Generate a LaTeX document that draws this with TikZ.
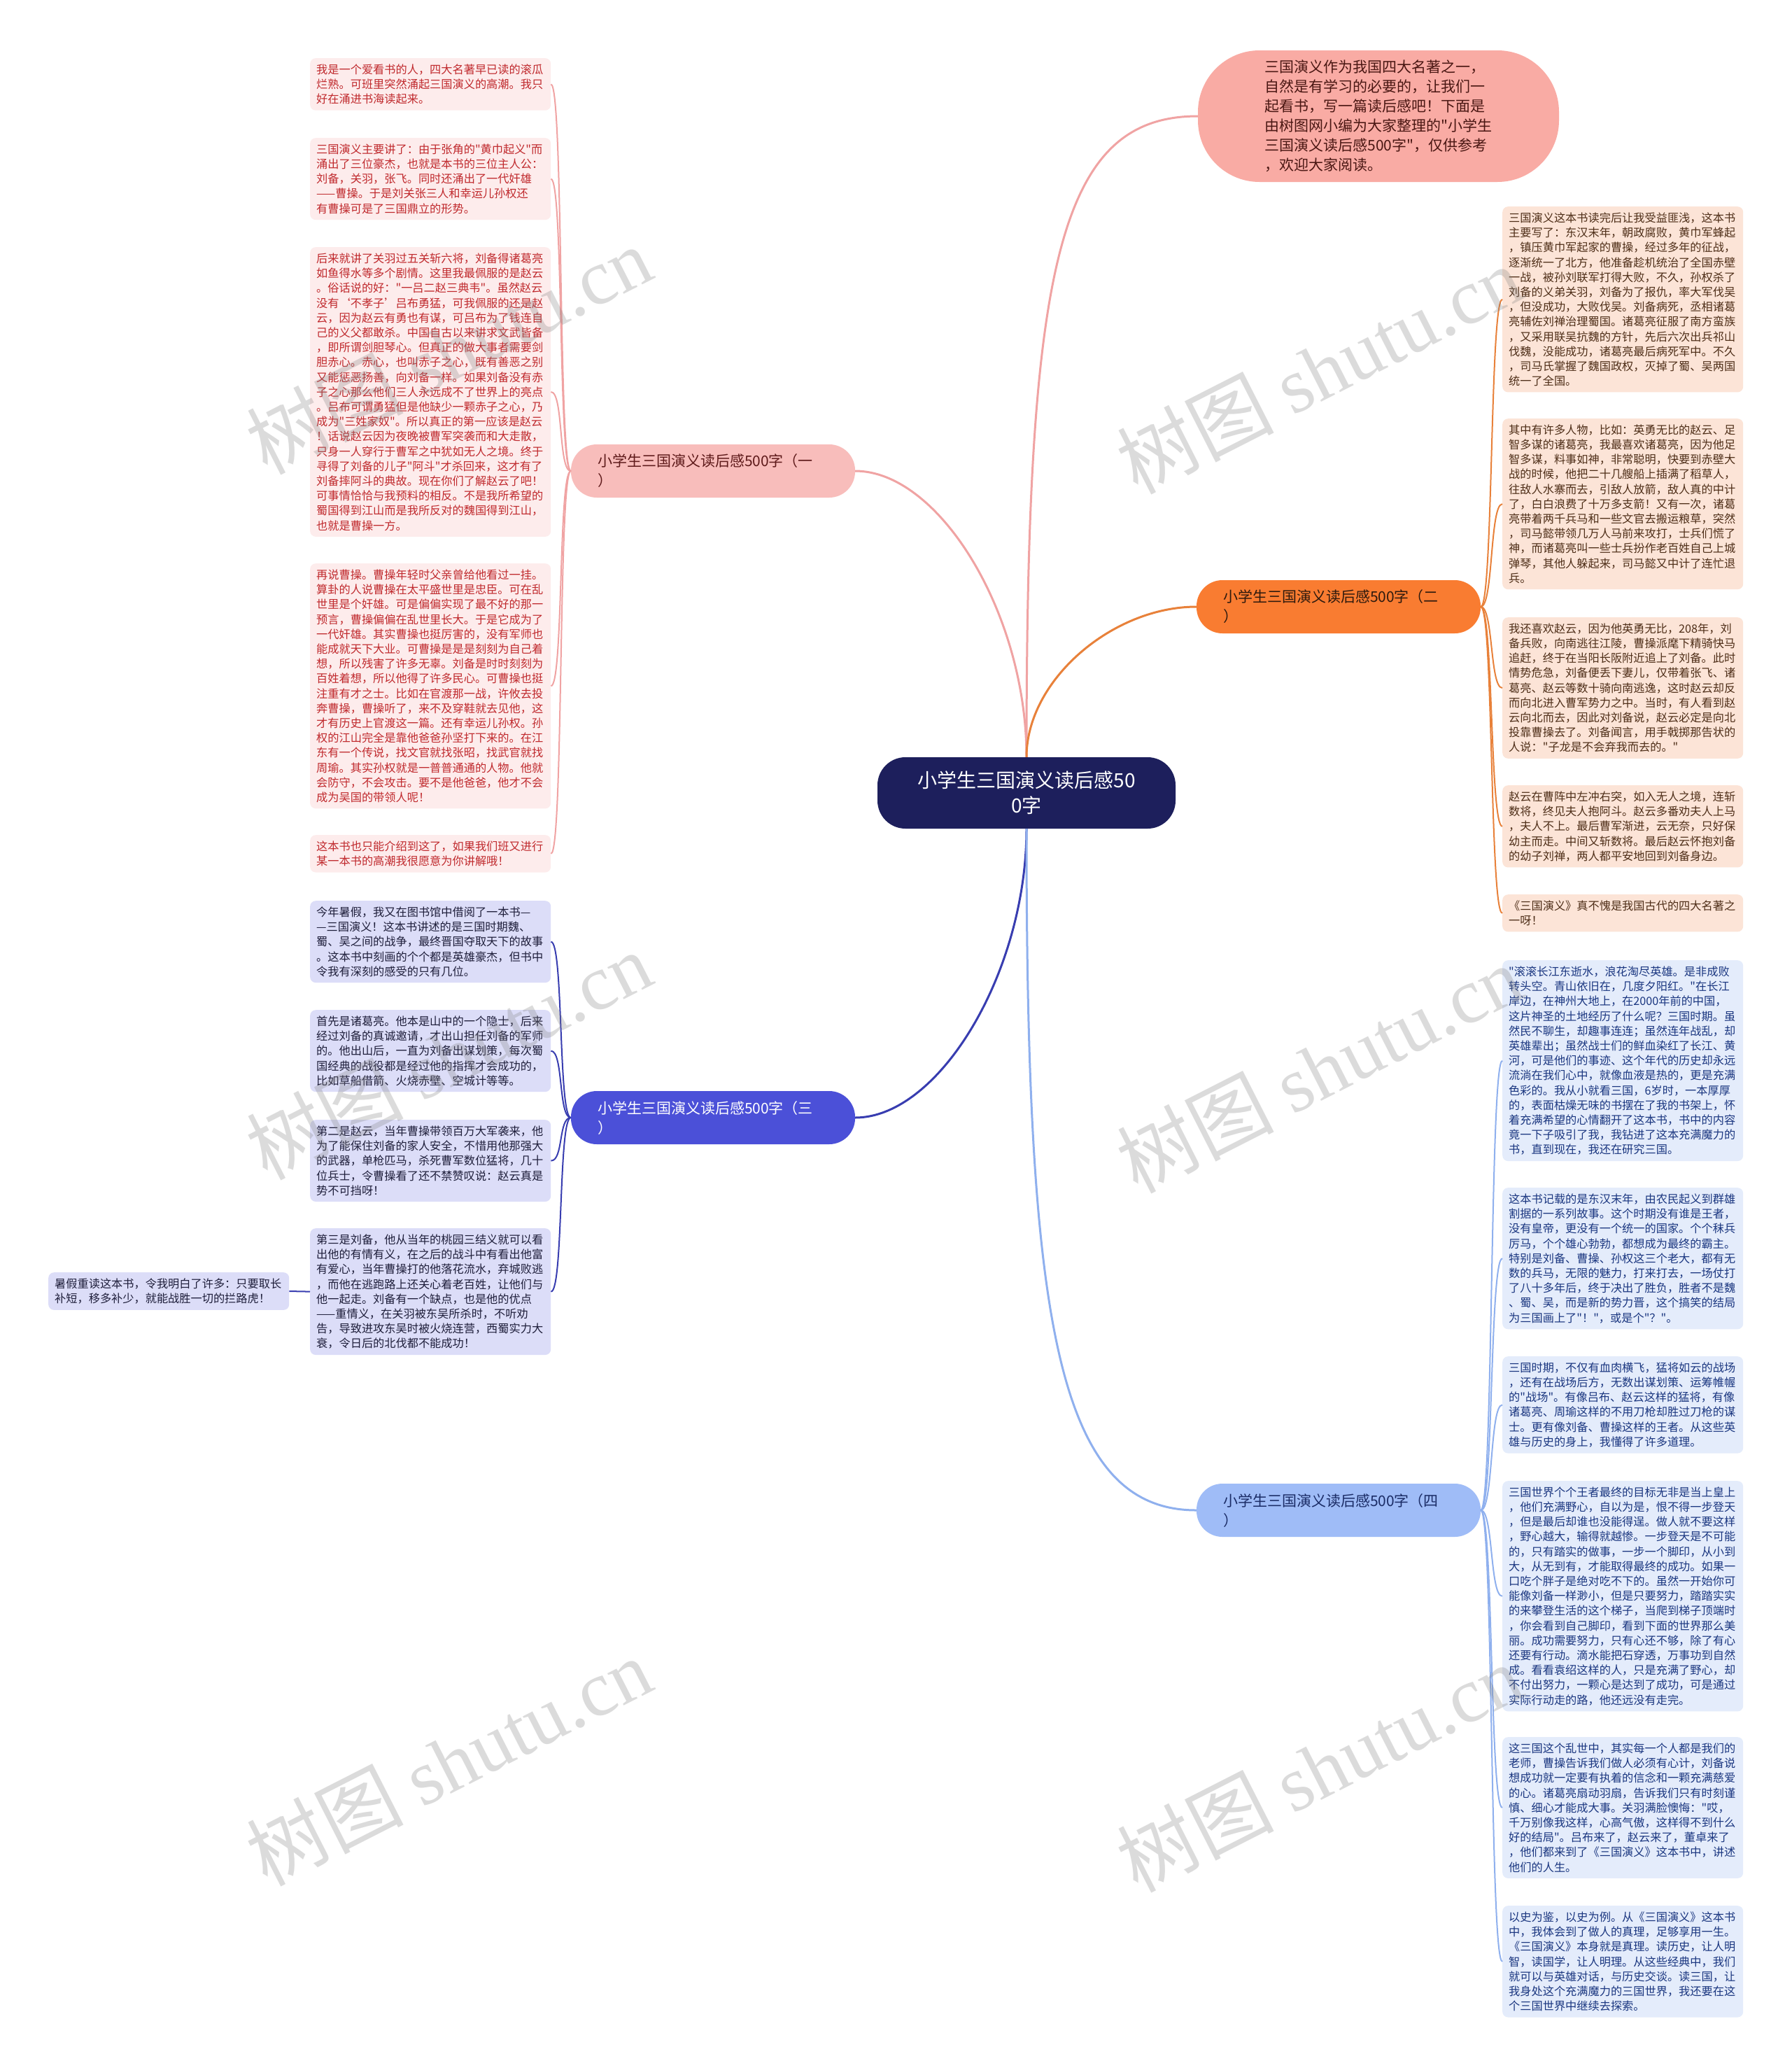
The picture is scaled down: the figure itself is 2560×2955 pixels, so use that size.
\documentclass[tikz,border=0pt]{standalone}
\usepackage{fontspec}
\setmainfont{Noto Sans CJK SC}[Ligatures=TeXOff]
\newfontfamily\wmfont{Liberation Serif}
\usepackage{xcolor}
\definecolor{cHub}{HTML}{1D1F5C}
\definecolor{cIntroBg}{HTML}{F9ABA4}
\definecolor{cIntroTx}{HTML}{4A1713}
\definecolor{cPinkTp}{HTML}{F8BDBB}
\definecolor{cPinkTx}{HTML}{5E1A1A}
\definecolor{cPinkLn}{HTML}{F0A3A3}
\definecolor{cRedBg}{HTML}{FDECEC}
\definecolor{cRedTx}{HTML}{C0292D}
\definecolor{cOrgTp}{HTML}{F97C31}
\definecolor{cOrgTx}{HTML}{2E1A0E}
\definecolor{cOrgLn}{HTML}{E8813A}
\definecolor{cOrgBg}{HTML}{FCE4D7}
\definecolor{cOrgLf}{HTML}{4E2E18}
\definecolor{cPurTp}{HTML}{4B50D8}
\definecolor{cPurLn}{HTML}{383DB0}
\definecolor{cPurBg}{HTML}{DCDDF8}
\definecolor{cPurTx}{HTML}{1E1E3A}
\definecolor{cBluTp}{HTML}{9FBCF7}
\definecolor{cBluTx}{HTML}{1B2C66}
\definecolor{cBluLn}{HTML}{8FB0EE}
\definecolor{cBluBg}{HTML}{E4ECFB}
\definecolor{cBluLf}{HTML}{1A3680}
\usepackage{tikz}
\newcommand\leaffont{\fontsize{16.2}{21.2}\selectfont}
\newcommand\topicfont{\fontsize{21}{28}\selectfont}
\tikzset{
  hub/.style={fill=cHub,text=white,rounded corners=40pt,align=center,
    minimum width=426pt,minimum height=102pt,font=\fontsize{28}{36}\selectfont},
  introbox/.style={fill=cIntroBg,text=cIntroTx,rounded corners=88pt,align=left,
    minimum width=516pt,minimum height=188pt,font=\topicfont},
  topic/.style={rounded corners=37pt,align=left,text width=330pt,inner xsep=38pt,
    minimum height=76pt,font=\topicfont},
  leaf/.style={anchor=north west,rounded corners=8pt,text width=326pt,
    inner xsep=9pt,inner ysep=8.5pt,align=left,font=\leaffont},
  redleaf/.style={leaf,fill=cRedBg,text=cRedTx},
  orgleaf/.style={leaf,fill=cOrgBg,text=cOrgLf},
  purleaf/.style={leaf,fill=cPurBg,text=cPurTx},
  bluleaf/.style={leaf,fill=cBluBg,text=cBluLf},
  link/.style={line width=3pt},
  twig/.style={line width=2pt},
  wmark/.style={text=gray,opacity=0.28,rotate=27,font=\fontsize{112}{116}\selectfont}}

\begin{document}
\begin{tikzpicture}[x=1pt,y=-1pt]
  \useasboundingbox (0,0) rectangle (2560,2955);
  \fill[white] (0,0) rectangle (2560,2955);
  % centre and main topics
  \node[hub] (hub) at (1467,1133) {小学生三国演义读后感50\\0字};
  \node[introbox] (intro) at (1970,166) {三国演义作为我国四大名著之一，\\自然是有学习的必要的，让我们一\\起看书，写一篇读后感吧！下面是\\由树图网小编为大家整理的"小学生\\三国演义读后感500字"，仅供参考\\，欢迎大家阅读。};
  \node[topic,fill=cPinkTp,text=cPinkTx] (t1) at (1019,673) {小学生三国演义读后感500字（一\\）};
  \node[topic,fill=cOrgTp,text=cOrgTx] (t2) at (1913,867) {小学生三国演义读后感500字（二\\）};
  \node[topic,fill=cPurTp,text=white] (t3) at (1019,1597) {小学生三国演义读后感500字（三\\）};
  \node[topic,fill=cBluTp,text=cBluTx] (t4) at (1913,2158) {小学生三国演义读后感500字（四\\）};

  % topic one
  \node[redleaf] (r1) at (443,83) {我是一个爱看书的人，四大名著早已读的滚瓜\\烂熟。可班里突然涌起三国演义的高潮。我只\\好在涌进书海读起来。};
  \node[redleaf] (r2) at (443,197) {三国演义主要讲了：由于张角的"黄巾起义"而\\涌出了三位豪杰，也就是本书的三位主人公：\\刘备，关羽，张飞。同时还涌出了一代奸雄\\——曹操。于是刘关张三人和幸运儿孙权还\\有曹操可是了三国鼎立的形势。};
  \node[redleaf] (r3) at (443,353) {后来就讲了关羽过五关斩六将，刘备得诸葛亮\\如鱼得水等多个剧情。这里我最佩服的是赵云\\。俗话说的好："一吕二赵三典韦"。虽然赵云\\没有‘不孝子’吕布勇猛，可我佩服的还是赵\\云，因为赵云有勇也有谋，可吕布为了钱连自\\己的义父都敢杀。中国自古以来讲求文武皆备\\，即所谓剑胆琴心。但真正的做大事者需要剑\\胆赤心。赤心，也叫赤子之心，既有善恶之别\\又能惩恶扬善，向刘备一样。如果刘备没有赤\\子之心那么他们三人永远成不了世界上的亮点\\。吕布可谓勇猛但是他缺少一颗赤子之心，乃\\成为"三姓家奴"。所以真正的第一应该是赵云\\！话说赵云因为夜晚被曹军突袭而和大走散，\\只身一人穿行于曹军之中犹如无人之境。终于\\寻得了刘备的儿子"阿斗"才杀回来，这才有了\\刘备摔阿斗的典故。现在你们了解赵云了吧！\\可事情恰恰与我预料的相反。不是我所希望的\\蜀国得到江山而是我所反对的魏国得到江山，\\也就是曹操一方。};
  \node[redleaf] (r4) at (443,805) {再说曹操。曹操年轻时父亲曾给他看过一挂。\\算卦的人说曹操在太平盛世里是忠臣。可在乱\\世里是个奸雄。可是偏偏实现了最不好的那一\\预言，曹操偏偏在乱世里长大。于是它成为了\\一代奸雄。其实曹操也挺厉害的，没有军师也\\能成就天下大业。可曹操是是是刻刻为自己着\\想，所以残害了许多无辜。刘备是时时刻刻为\\百姓着想，所以他得了许多民心。可曹操也挺\\注重有才之士。比如在官渡那一战，许攸去投\\奔曹操，曹操听了，来不及穿鞋就去见他，这\\才有历史上官渡这一篇。还有幸运儿孙权。孙\\权的江山完全是靠他爸爸孙坚打下来的。在江\\东有一个传说，找文官就找张昭，找武官就找\\周瑜。其实孙权就是一普普通通的人物。他就\\会防守，不会攻击。要不是他爸爸，他才不会\\成为吴国的带领人呢！};
  \node[redleaf] (r5) at (443,1193) {这本书也只能介绍到这了，如果我们班又进行\\某一本书的高潮我很愿意为你讲解哦！};

  % topic two
  \node[orgleaf] (o1) at (2147,295) {三国演义这本书读完后让我受益匪浅，这本书\\主要写了：东汉末年，朝政腐败，黄巾军蜂起\\，镇压黄巾军起家的曹操，经过多年的征战，\\逐渐统一了北方，他准备趁机统治了全国赤壁\\一战，被孙刘联军打得大败，不久，孙权杀了\\刘备的义弟关羽，刘备为了报仇，率大军伐吴\\，但没成功，大败伐吴。刘备病死，丞相诸葛\\亮辅佐刘禅治理蜀国。诸葛亮征服了南方蛮族\\，又采用联吴抗魏的方针，先后六次出兵祁山\\伐魏，没能成功，诸葛亮最后病死军中。不久\\，司马氏掌握了魏国政权，灭掉了蜀、吴两国\\统一了全国。};
  \node[orgleaf] (o2) at (2147,598) {其中有许多人物，比如：英勇无比的赵云、足\\智多谋的诸葛亮，我最喜欢诸葛亮，因为他足\\智多谋，料事如神，非常聪明，快要到赤壁大\\战的时候，他把二十几艘船上插满了稻草人，\\往敌人水寨而去，引敌人放箭，敌人真的中计\\了，白白浪费了十万多支箭！又有一次，诸葛\\亮带着两千兵马和一些文官去搬运粮草，突然\\，司马懿带领几万人马前来攻打，士兵们慌了\\神，而诸葛亮叫一些士兵扮作老百姓自己上城\\弹琴，其他人躲起来，司马懿又中计了连忙退\\兵。};
  \node[orgleaf] (o3) at (2147,882) {我还喜欢赵云，因为他英勇无比，208年，刘\\备兵败，向南逃往江陵，曹操派麾下精骑快马\\追赶，终于在当阳长阪附近追上了刘备。此时\\情势危急，刘备便丢下妻儿，仅带着张飞、诸\\葛亮、赵云等数十骑向南逃逸，这时赵云却反\\而向北进入曹军势力之中。当时，有人看到赵\\云向北而去，因此对刘备说，赵云必定是向北\\投靠曹操去了。刘备闻言，用手戟掷那告状的\\人说："子龙是不会弃我而去的。"};
  \node[orgleaf] (o4) at (2147,1122) {赵云在曹阵中左冲右突，如入无人之境，连斩\\数将，终见夫人抱阿斗。赵云多番劝夫人上马\\，夫人不上。最后曹军渐进，云无奈，只好保\\幼主而走。中间又斩数将。最后赵云怀抱刘备\\的幼子刘禅，两人都平安地回到刘备身边。};
  \node[orgleaf] (o5) at (2147,1278) {《三国演义》真不愧是我国古代的四大名著之\\一呀！};

  % topic three
  \node[purleaf] (p1) at (443,1287) {今年暑假，我又在图书馆中借阅了一本书—\\—三国演义！这本书讲述的是三国时期魏、\\蜀、吴之间的战争，最终晋国夺取天下的故事\\。这本书中刻画的个个都是英雄豪杰，但书中\\令我有深刻的感受的只有几位。};
  \node[purleaf] (p2) at (443,1443) {首先是诸葛亮。他本是山中的一个隐士，后来\\经过刘备的真诚邀请，才出山担任刘备的军师\\的。他出山后，一直为刘备出谋划策，每次蜀\\国经典的战役都是经过他的指挥才会成功的，\\比如草船借箭、火烧赤壁、空城计等等。};
  \node[purleaf] (p3) at (443,1600) {第二是赵云，当年曹操带领百万大军袭来，他\\为了能保住刘备的家人安全，不惜用他那强大\\的武器，单枪匹马，杀死曹军数位猛将，几十\\位兵士，令曹操看了还不禁赞叹说：赵云真是\\势不可挡呀！};
  \node[purleaf] (p4) at (443,1755) {第三是刘备，他从当年的桃园三结义就可以看\\出他的有情有义，在之后的战斗中有看出他富\\有爱心，当年曹操打的他落花流水，弃城败逃\\，而他在逃跑路上还关心着老百姓，让他们与\\他一起走。刘备有一个缺点，也是他的优点\\——重情义，在关羽被东吴所杀时，不听劝\\告，导致进攻东吴时被火烧连营，西蜀实力大\\衰，令日后的北伐都不能成功！};
  \node[purleaf] (p5) at (69,1818) {暑假重读这本书，令我明白了许多：只要取长\\补短，移多补少，就能战胜一切的拦路虎！};

  % topic four
  \node[bluleaf] (b1) at (2147,1372) {"滚滚长江东逝水，浪花淘尽英雄。是非成败\\转头空。青山依旧在，几度夕阳红。"在长江\\岸边，在神州大地上，在2000年前的中国，\\这片神圣的土地经历了什么呢？三国时期。虽\\然民不聊生，却趣事连连；虽然连年战乱，却\\英雄辈出；虽然战士们的鲜血染红了长江、黄\\河，可是他们的事迹、这个年代的历史却永远\\流淌在我们心中，就像血液是热的，更是充满\\色彩的。我从小就看三国，6岁时，一本厚厚\\的，表面枯燥无味的书摆在了我的书架上，怀\\着充满希望的心情翻开了这本书，书中的内容\\竟一下子吸引了我，我钻进了这本充满魔力的\\书，直到现在，我还在研究三国。};
  \node[bluleaf] (b2) at (2147,1697) {这本书记载的是东汉末年，由农民起义到群雄\\割据的一系列故事。这个时期没有谁是王者，\\没有皇帝，更没有一个统一的国家。个个秣兵\\厉马，个个雄心勃勃，都想成为最终的霸主。\\特别是刘备、曹操、孙权这三个老大，都有无\\数的兵马，无限的魅力，打来打去，一场仗打\\了八十多年后，终于决出了胜负，胜者不是魏\\、蜀、吴，而是新的势力晋，这个搞笑的结局\\为三国画上了"！"，或是个"？"。};
  \node[bluleaf] (b3) at (2147,1938) {三国时期，不仅有血肉横飞，猛将如云的战场\\，还有在战场后方，无数出谋划策、运筹帷幄\\的"战场"。有像吕布、赵云这样的猛将，有像\\诸葛亮、周瑜这样的不用刀枪却胜过刀枪的谋\\士。更有像刘备、曹操这样的王者。从这些英\\雄与历史的身上，我懂得了许多道理。};
  \node[bluleaf] (b4) at (2147,2116) {三国世界个个王者最终的目标无非是当上皇上\\，他们充满野心，自以为是，恨不得一步登天\\，但是最后却谁也没能得逞。做人就不要这样\\，野心越大，输得就越惨。一步登天是不可能\\的，只有踏实的做事，一步一个脚印，从小到\\大，从无到有，才能取得最终的成功。如果一\\口吃个胖子是绝对吃不下的。虽然一开始你可\\能像刘备一样渺小，但是只要努力，踏踏实实\\的来攀登生活的这个梯子，当爬到梯子顶端时\\，你会看到自己脚印，看到下面的世界那么美\\丽。成功需要努力，只有心还不够，除了有心\\还要有行动。滴水能把石穿透，万事功到自然\\成。看看袁绍这样的人，只是充满了野心，却\\不付出努力，一颗心是达到了成功，可是通过\\实际行动走的路，他还远没有走完。};
  \node[bluleaf] (b5) at (2147,2482) {这三国这个乱世中，其实每一个人都是我们的\\老师，曹操告诉我们做人必须有心计，刘备说\\想成功就一定要有执着的信念和一颗充满慈爱\\的心。诸葛亮扇动羽扇，告诉我们只有时刻谨\\慎、细心才能成大事。关羽满脸懊悔："哎，\\千万别像我这样，心高气傲，这样得不到什么\\好的结局"。吕布来了，赵云来了，董卓来了\\，他们都来到了《三国演义》这本书中，讲述\\他们的人生。};
  \node[bluleaf] (b6) at (2147,2723) {以史为鉴，以史为例。从《三国演义》这本书\\中，我体会到了做人的真理，足够享用一生。\\《三国演义》本身就是真理。读历史，让人明\\智，读国学，让人明理。从这些经典中，我们\\就可以与英雄对话，与历史交谈。读三国，让\\我身处这个充满魔力的三国世界，我还要在这\\个三国世界中继续去探索。};

  % links from the centre
  \draw[link,cPinkLn] (hub.north) .. controls +(0,-205) and +(120,0) .. (t1.east);
  \draw[link,cPinkLn] (hub.north) .. controls +(0,-700) and +(-200,0) .. (intro.west);
  \draw[link,cOrgLn] (hub.north) .. controls +(0,-110) and +(-120,0) .. (t2.west);
  \draw[link,cPurLn] (hub.south) .. controls +(0,205) and +(120,0) .. (t3.east);
  \draw[link,cBluLn] (hub.south) .. controls +(0,700) and +(-200,0) .. (t4.west);

  % twigs to the leaves
  \foreach \n in {r1,r2,r3,r4,r5}
    \draw[twig,cPinkLn] (t1.west) .. controls +(-18,0) and +(18,0) .. (\n.east);
  \foreach \n in {o1,o2,o3,o4,o5}
    \draw[twig,cOrgLn] (t2.east) .. controls +(18,0) and +(-18,0) .. (\n.west);
  \foreach \n in {p1,p2,p3,p4}
    \draw[twig,cPurLn] (t3.west) .. controls +(-18,0) and +(18,0) .. (\n.east);
  \draw[twig,cPurLn] (p4.west) -- (p5.east);
  \foreach \n in {b1,b2,b3,b4,b5,b6}
    \draw[twig,cBluLn] (t4.east) .. controls +(18,0) and +(-18,0) .. (\n.west);

  % watermarks
  \foreach \x/\y [count=\i] in {641/500,1885/528,641/1508,1885/1527,641/2517,1885/2526}
    \node[wmark] (wm\i) at (\x,\y) {树图 {\wmfont shutu.cn}};
\end{tikzpicture}
\end{document}
